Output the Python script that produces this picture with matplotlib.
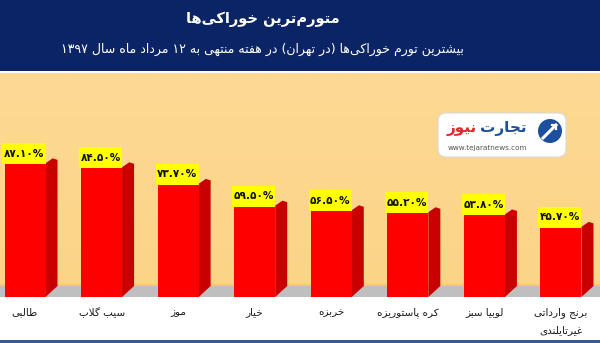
import matplotlib
matplotlib.use('Agg')
import matplotlib.pyplot as plt
from matplotlib.patches import Rectangle, Polygon, FancyBboxPatch, Circle
import numpy as np

plt.rcParams['font.family'] = ['DejaVu Sans']

title = 'متورم‌ترین خوراکی‌ها'
subtitle = 'بیشترین تورم خوراکی‌ها (در تهران) در هفته منتهی به ۱۲ مرداد ماه سال ۱۳۹۷'
categories = ['طالبی', 'سیب گلاب', 'موز', 'خیار', 'خربزه', 'کره پاستوریزه', 'لوبیا سبز',
              'برنج وارداتی\nغیرتایلندی']
values = [87.10, 84.50, 73.70, 59.50, 56.50, 55.20, 53.80, 45.70]

# arabic presentation forms: isolated, final, initial, medial
FORMS = {
    'ا': ('\uFE8D', '\uFE8E', None, None), 'آ': ('\uFE81', '\uFE82', None, None),
    'ب': ('\uFE8F', '\uFE90', '\uFE91', '\uFE92'), 'پ': ('\uFB56', '\uFB57', '\uFB58', '\uFB59'),
    'ت': ('\uFE95', '\uFE96', '\uFE97', '\uFE98'), 'ث': ('\uFE99', '\uFE9A', '\uFE9B', '\uFE9C'),
    'ج': ('\uFE9D', '\uFE9E', '\uFE9F', '\uFEA0'), 'چ': ('\uFB7A', '\uFB7B', '\uFB7C', '\uFB7D'),
    'ح': ('\uFEA1', '\uFEA2', '\uFEA3', '\uFEA4'), 'خ': ('\uFEA5', '\uFEA6', '\uFEA7', '\uFEA8'),
    'د': ('\uFEA9', '\uFEAA', None, None), 'ذ': ('\uFEAB', '\uFEAC', None, None),
    'ر': ('\uFEAD', '\uFEAE', None, None), 'ز': ('\uFEAF', '\uFEB0', None, None),
    'ژ': ('\uFB8A', '\uFB8B', None, None), 'س': ('\uFEB1', '\uFEB2', '\uFEB3', '\uFEB4'),
    'ش': ('\uFEB5', '\uFEB6', '\uFEB7', '\uFEB8'), 'ص': ('\uFEB9', '\uFEBA', '\uFEBB', '\uFEBC'),
    'ض': ('\uFEBD', '\uFEBE', '\uFEBF', '\uFEC0'), 'ط': ('\uFEC1', '\uFEC2', '\uFEC3', '\uFEC4'),
    'ظ': ('\uFEC5', '\uFEC6', '\uFEC7', '\uFEC8'), 'ع': ('\uFEC9', '\uFECA', '\uFECB', '\uFECC'),
    'غ': ('\uFECD', '\uFECE', '\uFECF', '\uFED0'), 'ف': ('\uFED1', '\uFED2', '\uFED3', '\uFED4'),
    'ق': ('\uFED5', '\uFED6', '\uFED7', '\uFED8'), 'ک': ('\uFB8E', '\uFB8F', '\uFB90', '\uFB91'),
    'گ': ('\uFB92', '\uFB93', '\uFB94', '\uFB95'), 'ل': ('\uFEDD', '\uFEDE', '\uFEDF', '\uFEE0'),
    'م': ('\uFEE1', '\uFEE2', '\uFEE3', '\uFEE4'), 'ن': ('\uFEE5', '\uFEE6', '\uFEE7', '\uFEE8'),
    'و': ('\uFEED', '\uFEEE', None, None), 'ه': ('\uFEE9', '\uFEEA', '\uFEEB', '\uFEEC'),
    'ی': ('\uFBFC', '\uFBFD', '\uFBFE', '\uFBFF'),
}
LTR = set('0123456789۰۱۲۳۴۵۶۷۸۹.%abcdefghijklmnopqrstuvwxyz')
MIRROR = {'(': ')', ')': '('}


def shape_line(s):
    out = []
    i = 0
    n = len(s)
    while i < n:
        c = s[i]
        if c not in FORMS:
            if c != '\u200c':
                out.append(c)
            i += 1
            continue
        prev = s[i - 1] if i > 0 else ''
        joins_prev = prev in FORMS and FORMS[prev][2] is not None
        if c == 'ل' and i + 1 < n and s[i + 1] == 'ا':
            out.append('\uFEFC' if joins_prev else '\uFEFB')
            i += 2
            continue
        nxt = s[i + 1] if i + 1 < n else ''
        joins_next = FORMS[c][2] is not None and nxt in FORMS
        iso, fin, ini, med = FORMS[c]
        if joins_prev and joins_next:
            out.append(med)
        elif joins_prev:
            out.append(fin)
        elif joins_next:
            out.append(ini)
        else:
            out.append(iso)
        i += 1
    # visual order: reverse, keep number runs left to right
    vis = [MIRROR.get(ch, ch) for ch in out[::-1]]
    res = []
    run = []
    for ch in vis:
        if ch in LTR:
            run.append(ch)
        else:
            res.extend(run[::-1])
            run = []
            res.append(ch)
    res.extend(run[::-1])
    return ''.join(res)


def fa(s):
    return '\n'.join(shape_line(line) for line in s.split('\n'))


def fa_num(v):
    return f'{v:.2f}%'.translate(str.maketrans('0123456789', '۰۱۲۳۴۵۶۷۸۹'))


fig = plt.figure(figsize=(6, 3.43), dpi=100)

# background
bg = fig.add_axes([0, 0, 1, 1])
bg.set_xlim(0, 600)
bg.set_ylim(343, 0)
bg.axis('off')
bg.add_patch(Rectangle((0, 0), 600, 71, color='#0b2466', lw=0))
bg.add_patch(Rectangle((0, 71), 600, 2, color='#ffffff', lw=0))
grad = np.linspace(0, 1, 100)[:, None]
top_c = np.array([253, 217, 148]) / 255
bot_c = np.array([252, 212, 136]) / 255
img = top_c + (bot_c - top_c) * grad[..., None]
bg.imshow(img, extent=(0, 600, 284, 73), aspect='auto', zorder=0)
bg.add_patch(Rectangle((0, 284), 600, 2, color='#f6c874', lw=0))
bg.add_patch(Rectangle((0, 286), 600, 11, color='#bfbfbf', lw=0))
bg.add_patch(Rectangle((0, 297), 600, 43, color='#ffffff', lw=0))
bg.add_patch(Rectangle((0, 340), 600, 3, color='#3b5b8f', lw=0))

bg.text(263, 19, fa(title), color='white', fontsize=10.5, fontweight='bold', ha='center', va='center')
bg.text(262, 49, fa(subtitle), color='white', fontsize=9, ha='center', va='center')

# logo
bg.add_patch(FancyBboxPatch((440, 115), 124, 40, boxstyle='round,pad=2,rounding_size=8',
                            fc='white', ec='#d8d8d8', lw=0.8, zorder=2))
bg.text(503, 128, shape_line('تجارت'), color='#1d4f9f', fontsize=11, fontweight='bold',
        ha='center', va='center', zorder=3)
bg.text(462, 129, shape_line('نیوز'), color='#e3262b', fontsize=11, fontweight='bold',
        ha='center', va='center', zorder=3)
bg.text(487, 148, 'www.tejaratnews.com', color='#555555', fontsize=5.2,
        ha='center', va='center', zorder=3)
bg.add_patch(Circle((550, 131), 12, fc='#1d4f9f', ec='none', zorder=3))
bg.plot([543, 556], [138, 125], color='white', lw=2.2, zorder=4)
bg.plot([552, 556, 556], [125, 125, 129], color='white', lw=1.6, zorder=4)

# bars
px_x = 76.57
px_y = 1.535
ax = fig.add_axes([0, 46 / 343, 1, 224 / 343])
ax.set_xlim(-25 / px_x, 575 / px_x)
ax.set_ylim(0, 224 / px_y)
ax.axis('off')

x = np.arange(len(values))
w = 41 / px_x
dx = 12 / px_x
dyb = 11 / px_y
dyt = 5 / px_y

ax.bar(x, values, width=w, color='#ff0000', zorder=3)
for xi, v in zip(x, values):
    xr = xi + w / 2
    ax.add_patch(Polygon([(xr, 0), (xr + dx, dyb), (xr + dx, v + dyt - 1), (xr + dx * 0.6, v + dyt),
                          (xr, v)], closed=True, fc='#c80000', ec='none', zorder=2))
    xl = xi - w / 2 - 2 / px_x
    ax.add_patch(Rectangle((xl, v - 1 / px_y), 43 / px_x, 21 / px_y, fc='#ffff00', ec='none', zorder=4))
    ax.text(xl + 21.5 / px_x, v + 9.5 / px_y, fa_num(v), fontsize=7.6, fontweight='bold',
            ha='center', va='center', color='#111111', zorder=5)

for xi, c in zip(x, categories):
    ax.text(xi, -10 / px_y, fa(c), fontsize=7.5, ha='center', va='top', color='#1a1a1a',
            linespacing=1.9, clip_on=False)

fig.savefig('out.png', dpi=100)
